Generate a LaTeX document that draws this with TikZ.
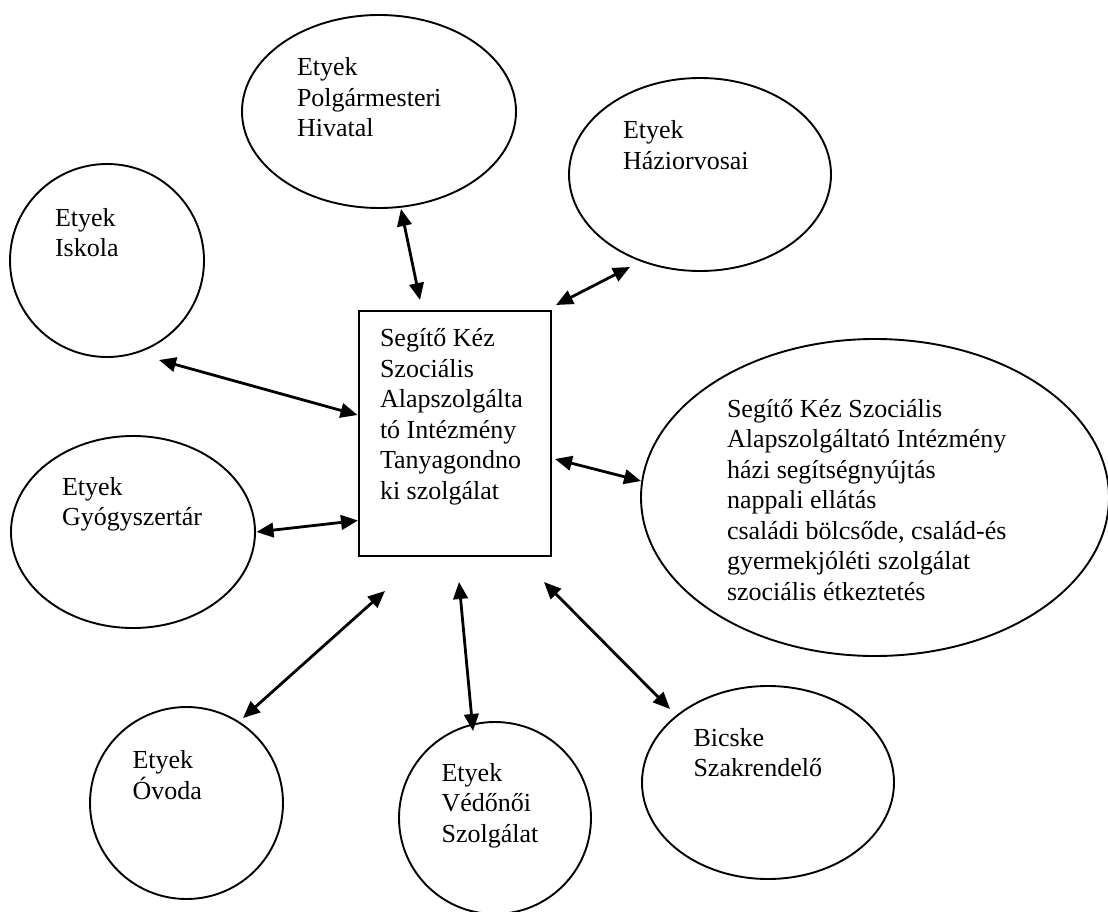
\documentclass[tikz,border=0pt]{standalone}
\usepackage{fontspec}
\setmainfont{Liberation Serif}
\usetikzlibrary{shapes.geometric,arrows.meta}
\newcommand{\mlines}[1]{\begin{tabular}[t]{@{}l@{}}#1\end{tabular}}
\tikzset{
  oval/.style={draw, ellipse, line width=1.9pt, inner sep=0pt, outer sep=0pt},
  boxnode/.style={draw, rectangle, line width=2pt, inner sep=0pt, outer sep=0pt},
  lbl/.style={anchor=base west, inner sep=0pt, outer sep=0pt, font=\fontsize{26}{30.5}\selectfont},
  link/.style={line width=2.8pt, {Triangle[length=17pt,width=14.5pt]}-{Triangle[length=17pt,width=14.5pt]}},
}
\begin{document}
\begin{tikzpicture}[x=1pt,y=-1pt]
\useasboundingbox (0,0) rectangle (1108,912);

% shapes
\node[oval, minimum width=274pt, minimum height=193pt] (polg) at (379,111.5) {};
\node[oval, minimum width=262pt, minimum height=193pt] (hazi) at (700,174.5) {};
\node[oval, minimum width=194pt, minimum height=193pt] (isk) at (107,260.5) {};
\node[oval, minimum width=244pt, minimum height=192pt] (gyogy) at (133,532) {};
\node[oval, minimum width=468pt, minimum height=317pt] (big) at (875,497.5) {};
\node[oval, minimum width=193pt, minimum height=192pt] (ovoda) at (186.5,803) {};
\node[oval, minimum width=192pt, minimum height=192pt] (vedo) at (495,818) {};
\node[oval, minimum width=252pt, minimum height=193pt] (bicske) at (768,782.5) {};
\node[boxnode, minimum width=192pt, minimum height=245pt] (center) at (455,433.5) {};

% texts
\node[lbl] (tpolg) at (297,76) {\mlines{Etyek\\Polgármesteri\\Hivatal}};
\node[lbl] (thazi) at (623,139) {\mlines{Etyek\\Háziorvosai}};
\node[lbl] (tisk) at (55,226) {\mlines{Etyek\\Iskola}};
\node[lbl] (tcenter) at (380,346.7) {\mlines{Segítő Kéz\\Szociális\\Alapszolgálta\\tó Intézmény\\Tanyagondno\\ki szolgálat}};
\node[lbl] (tbig) at (727,417) {\mlines{Segítő Kéz Szociális\\Alapszolgáltató Intézmény\\házi segítségnyújtás\\nappali ellátás\\családi bölcsőde, család-és\\gyermekjóléti szolgálat\\szociális étkeztetés}};
\node[lbl] (tgyogy) at (62,495) {\mlines{Etyek\\Gyógyszertár}};
\node[lbl] (tovoda) at (132.5,768) {\mlines{Etyek\\Óvoda}};
\node[lbl] (tvedo) at (441.6,781) {\mlines{Etyek\\Védőnői\\Szolgálat}};
\node[lbl] (tbicske) at (693.5,746) {\mlines{Bicske\\Szakrendelő}};

% connector end points
\coordinate (polgA) at (401,209);
\coordinate (polgB) at (420,300);
\coordinate (haziA) at (630,267);
\coordinate (haziB) at (556,305);
\coordinate (iskA) at (159,360);
\coordinate (iskB) at (357.5,415);
\coordinate (gyogyA) at (256.5,532);
\coordinate (gyogyB) at (358,520.5);
\coordinate (bigA) at (641,481);
\coordinate (bigB) at (555,459);
\coordinate (ovodaA) at (243,718);
\coordinate (ovodaB) at (385,591);
\coordinate (vedoA) at (473,731);
\coordinate (vedoB) at (459,582);
\coordinate (bicskeA) at (670,709);
\coordinate (bicskeB) at (544,582);

\draw[link] (polgA) -- (polgB);
\draw[link] (haziA) -- (haziB);
\draw[link] (iskA) -- (iskB);
\draw[link] (gyogyA) -- (gyogyB);
\draw[link] (bigA) -- (bigB);
\draw[link] (ovodaA) -- (ovodaB);
\draw[link] (vedoA) -- (vedoB);
\draw[link] (bicskeA) -- (bicskeB);
\end{tikzpicture}
\end{document}
